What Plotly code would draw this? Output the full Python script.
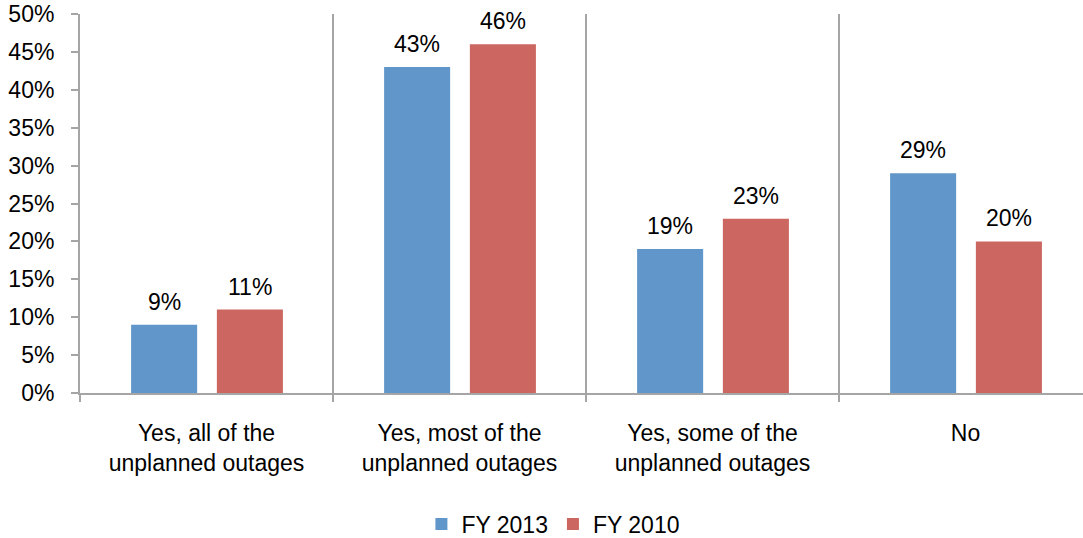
import plotly.graph_objects as go

# Survey answers and the share of respondents per fiscal year (in %)
categories = [
    "Yes, all of the<br>unplanned outages",
    "Yes, most of the<br>unplanned outages",
    "Yes, some of the<br>unplanned outages",
    "No",
]
fy2013 = [9, 43, 19, 29]
fy2010 = [11, 46, 23, 20]
series_names = ["FY 2013", "FY 2010"]
y_ticks = [0, 5, 10, 15, 20, 25, 30, 35, 40, 45, 50]
y_tick_labels = [f"{v}%" for v in y_ticks]

BLUE = "#6096C9"
RED = "#CC6660"
GREY = "#A5A5A5"
FONT = "Liberation Sans, Arial, sans-serif"
FS = 23

BAR_W = 0.261
OFFSETS = [-0.298, 0.041]

fig = go.Figure()
for name, vals, col, off in zip(series_names, [fy2013, fy2010], [BLUE, RED], OFFSETS):
    fig.add_trace(go.Bar(
        x=categories, y=vals, name=name,
        marker=dict(color=col, line=dict(width=0)),
        width=BAR_W, offset=off,
    ))

# value labels above each bar
annotations = []
for vals, off in zip([fy2013, fy2010], OFFSETS):
    for i, v in enumerate(vals):
        annotations.append(dict(
            x=i + off + BAR_W / 2, y=v, xref="x", yref="y",
            text=f"{v}%", showarrow=False, yanchor="bottom",
            yshift=8, font=dict(family=FONT, size=FS, color="#000000"),
        ))

fig.update_layout(
    width=1083, height=538,
    margin=dict(l=80, r=0, t=14, b=145, autoexpand=False),
    paper_bgcolor="white", plot_bgcolor="white",
    barmode="overlay",
    font=dict(family=FONT, size=FS, color="#000000"),
    showlegend=True,
    legend=dict(
        orientation="h",
        xref="container", x=0.511, xanchor="center",
        yref="container", y=0.026, yanchor="middle",
        font=dict(family=FONT, size=FS, color="#000000"),
        itemclick=False,
    ),
    annotations=annotations,
)

fig.update_xaxes(
    type="category",
    range=[-0.5, -0.5 + (1083 - 80) / 253],
    tickson="boundaries",
    ticks="outside", ticklen=7, tickwidth=2, tickcolor=GREY,
    showgrid=True, gridcolor=GREY, gridwidth=2,
    showline=True, linecolor=GREY, linewidth=2,
    zeroline=False,
    automargin=False,
    ticklabelstandoff=18,
    tickfont=dict(family=FONT, size=FS, color="#000000"),
)
fig.update_yaxes(
    range=[0, 50], tickmode="array", tickvals=y_ticks, ticktext=y_tick_labels,
    ticks="outside", ticklen=7, tickwidth=2, tickcolor=GREY,
    showgrid=False, zeroline=False,
    showline=True, linecolor=GREY, linewidth=2,
    automargin=False,
    ticklabelstandoff=12,
    tickfont=dict(family=FONT, size=FS, color="#000000"),
)

fig.write_html("out.html")
